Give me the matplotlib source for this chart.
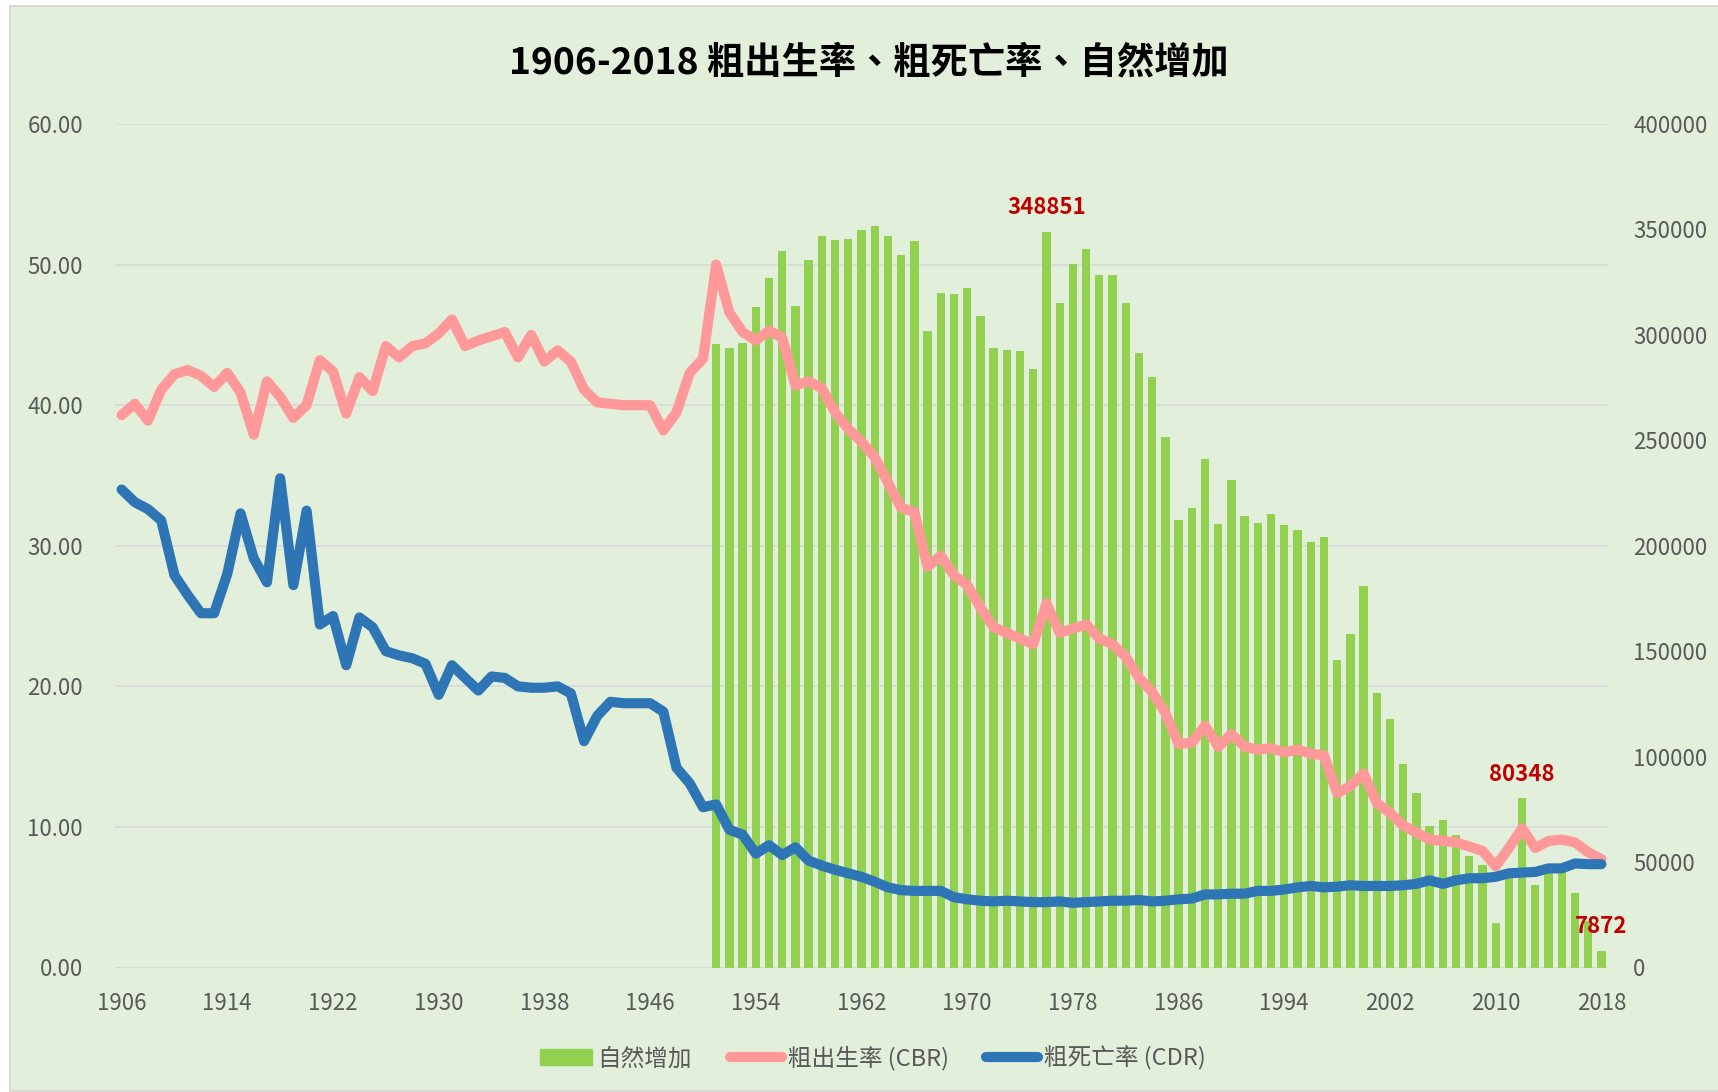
import numpy as np
import matplotlib
matplotlib.use('Agg')
import matplotlib.pyplot as plt
from matplotlib.patches import Rectangle, Patch
from matplotlib.lines import Line2D

plt.rcParams['font.family'] = ['Noto Sans CJK TC', 'DejaVu Sans']

# Data
years = np.arange(1906, 2019)

cbr_1906_1950 = [39.3, 40.1, 38.9, 41.1, 42.2, 42.5, 42.1, 41.3, 42.3, 40.9,
                 37.9, 41.7, 40.6, 39.1, 40.0, 43.2, 42.4, 39.4, 42.0, 41.0,
                 44.2, 43.4, 44.2, 44.4, 45.1, 46.1, 44.2, 44.6, 44.9, 45.2,
                 43.4, 45.0, 43.1, 43.9, 43.1, 41.1, 40.2, 40.1, 40.0, 40.0,
                 40.0, 38.2, 39.5, 42.3, 43.3]
cbr_1951_2018 = [50.0, 46.6, 45.2, 44.6, 45.3, 44.8, 41.4, 41.7, 41.2, 39.5,
                 38.3, 37.4, 36.3, 34.5, 32.7, 32.4, 28.5, 29.3, 27.9, 27.2,
                 25.6, 24.2, 23.8, 23.4, 23.0, 25.9, 23.8, 24.1, 24.4, 23.4,
                 23.0, 22.1, 20.6, 19.6, 18.1, 15.9, 16.0, 17.2, 15.7, 16.6,
                 15.7, 15.5, 15.6, 15.3, 15.5, 15.2, 15.1, 12.4, 12.9, 13.8,
                 11.7, 11.0, 10.1, 9.6, 9.1, 9.0, 8.9, 8.6, 8.3, 7.2,
                 8.5, 9.9, 8.5, 9.0, 9.1, 8.9, 8.2, 7.7]

cdr_1906_1950 = [34.0, 33.1, 32.6, 31.8, 27.9, 26.5, 25.2, 25.2, 28.0, 32.3,
                 29.1, 27.4, 34.8, 27.2, 32.5, 24.4, 25.0, 21.5, 24.9, 24.2,
                 22.5, 22.2, 22.0, 21.6, 19.4, 21.5, 20.6, 19.7, 20.7, 20.6,
                 20.0, 19.9, 19.9, 20.0, 19.5, 16.1, 17.9, 18.9, 18.8, 18.8,
                 18.8, 18.2, 14.2, 13.1, 11.4]
cdr_1951_2018 = [11.6, 9.8, 9.45, 8.1, 8.7, 8.0, 8.55, 7.6, 7.25, 6.95,
                 6.7, 6.45, 6.1, 5.7, 5.5, 5.45, 5.45, 5.45, 5.0, 4.85,
                 4.75, 4.7, 4.75, 4.7, 4.65, 4.65, 4.7, 4.6, 4.65, 4.7,
                 4.75, 4.75, 4.8, 4.7, 4.75, 4.85, 4.9, 5.2, 5.2, 5.25,
                 5.25, 5.45, 5.45, 5.55, 5.7, 5.8, 5.7, 5.75, 5.85, 5.8,
                 5.8, 5.8, 5.85, 5.95, 6.2, 5.95, 6.2, 6.35, 6.35, 6.45,
                 6.7, 6.75, 6.8, 7.05, 7.05, 7.4, 7.35, 7.35]

increase_1951_2018 = [295800, 293900, 296300, 313200, 326900, 339700, 313900, 335300, 346700, 345100,
                      345700, 349800, 351700, 347000, 338000, 344600, 301800, 319800, 319500, 322200,
                      308900, 293600, 292900, 292500, 283800, 348851, 315200, 333400, 340800, 328600,
                      328500, 315200, 291400, 280000, 251700, 212200, 217900, 241100, 210500, 231300,
                      214100, 210900, 215000, 210000, 207500, 201800, 204000, 145700, 158000, 181100,
                      130200, 118000, 96700, 82600, 67100, 69800, 62700, 52900, 48500, 21000,
                      43700, 80348, 39200, 46000, 48500, 35500, 22000, 7872]

labelled_years = [1976, 2012, 2018]

cbr = np.array(cbr_1906_1950 + cbr_1951_2018)
cdr = np.array(cdr_1906_1950 + cdr_1951_2018)
bar_years = np.arange(1951, 2019)
increase = np.array(increase_1951_2018)

left_ticks = [0, 10, 20, 30, 40, 50, 60]
right_ticks = list(range(0, 400001, 50000))
x_ticks = list(range(1906, 2019, 8))

BG = '#E2EFDA'
GRID = '#D9D9D9'
TXT = '#595959'
GREEN = '#92D050'
PINK = '#FF9999'
BLUE = '#2E75B6'
RED = '#C00000'

fig = plt.figure(figsize=(17.18, 10.92), dpi=100)
fig.patch.set_facecolor('white')
fig.patches.append(Rectangle((10 / 1718, 1 / 1092), 1.0, 1 - 7 / 1092,
                             transform=fig.transFigure, facecolor=BG,
                             edgecolor=GRID, lw=1.5, zorder=-10))

rect = [115 / 1718, 1 - 967.5 / 1092, (1608 - 115) / 1718, (967.5 - 124) / 1092]
ax = fig.add_axes(rect)
ax2 = ax.twinx()
ax.set_zorder(2)
ax2.set_zorder(1)
ax.patch.set_visible(False)
ax2.patch.set_visible(False)

# bars (right axis)
ax2.set_ylim(0, 400000)
for v in left_ticks[1:]:
    ax2.axhline(v / 60 * 400000, color=GRID, lw=1.2, zorder=0)
ax2.axhline(0, color=GRID, lw=2.2, zorder=0)
ax2.bar(bar_years, increase, width=0.63, color=GREEN, zorder=2)

for yr in labelled_years:
    val = increase[bar_years == yr][0]
    ax2.annotate(str(val), (yr, val), xytext=(0, 9), textcoords='offset points',
                 ha='center', va='bottom', color=RED, fontsize=16, fontweight='bold')

# lines (left axis)
ax.plot(years, cbr, color=PINK, lw=7.3, solid_joinstyle='round', solid_capstyle='round', zorder=3)
ax.plot(years, cdr, color=BLUE, lw=7.3, solid_joinstyle='round', solid_capstyle='round', zorder=4)
ax.set_ylim(0, 60)
ax.set_xlim(1905.5, 2018.5)
ax.set_yticks(left_ticks)
ax.set_yticklabels([f'{v:.2f}' for v in left_ticks])
ax2.set_yticks(right_ticks)
ax2.set_yticklabels([str(v) for v in right_ticks])
ax.set_xticks(x_ticks)
ax.set_xticklabels([str(v) for v in x_ticks])

for a in (ax, ax2):
    for s in a.spines.values():
        s.set_visible(False)
ax.tick_params(axis='y', length=0, pad=23, labelsize=16, labelcolor=TXT)
ax.tick_params(axis='x', length=0, pad=18, labelsize=16, labelcolor=TXT)
ax2.tick_params(axis='y', length=0, pad=18, labelsize=16, labelcolor=TXT)

fig.text(0.506, 0.942, '1906-2018 粗出生率、粗死亡率、自然增加', ha='center', va='center',
         fontsize=26.8, fontweight='bold', color='black')

handles = [Patch(facecolor=GREEN, edgecolor=GREEN),
           Line2D([0], [0], color=PINK, lw=7.3, solid_capstyle='round'),
           Line2D([0], [0], color=BLUE, lw=7.3, solid_capstyle='round')]
labels = ['自然增加', '粗出生率 (CBR)', '粗死亡率 (CDR)']
fig.legend(handles, labels, loc='center', bbox_to_anchor=(0.508, 0.031), ncol=3,
           frameon=False, fontsize=17, handlelength=2.2, handletextpad=0.25,
           columnspacing=1.6, labelcolor=TXT)

fig.savefig('out.png', dpi=100, facecolor=fig.get_facecolor())
